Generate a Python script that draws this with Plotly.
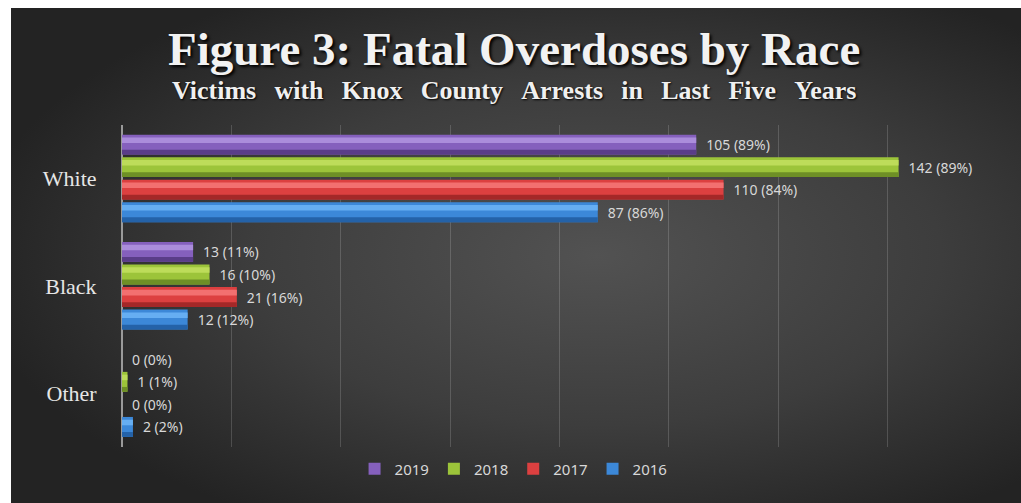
import base64
import plotly.graph_objects as go

# ---------------- data ----------------
categories = ["White", "Black", "Other"]
years = ["2019", "2018", "2017", "2016"]
counts_2019 = [105, 13, 0]
counts_2018 = [142, 16, 1]
counts_2017 = [110, 21, 0]
counts_2016 = [87, 12, 2]
pct_2019 = [89, 11, 0]
pct_2018 = [89, 10, 1]
pct_2017 = [84, 16, 0]
pct_2016 = [86, 12, 2]

series_counts = [counts_2019, counts_2018, counts_2017, counts_2016]
series_pct = [pct_2019, pct_2018, pct_2017, pct_2016]

# styles: body, highlight, shade
colors_body = ["#8560bd", "#9cc43a", "#dc4040", "#3c88d8"]
colors_hi = ["#ab8ddb", "#bddc5a", "#f27070", "#66aef2"]
colors_dark = ["#5a3d88", "#6e8f26", "#a42828", "#2462a8"]

W, H = 1021, 503
x_max = 160
y_pos = list(range(len(categories)))

bar_w = 0.185
offsets = [-0.41, -0.20, 0.01, 0.22]

fig = go.Figure()
for i, yr in enumerate(years):
    cnt = series_counts[i]
    pct = series_pct[i]
    labels = ["\u2002" + f"{c} ({p}%)" for c, p in zip(cnt, pct)]
    fig.add_trace(go.Bar(
        y=y_pos, x=cnt, orientation="h", name=yr,
        width=bar_w, offset=offsets[i],
        marker=dict(color=colors_body[i], line=dict(width=0)),
        text=labels, textposition="outside", constraintext="none",
        textfont=dict(family="Noto Sans, Open Sans, sans-serif", size=14, color="#d8d8d8"),
        cliponaxis=False, hoverinfo="x+name",
    ))
    # cylinder highlight
    fig.add_trace(go.Bar(
        y=y_pos, x=cnt, orientation="h", showlegend=False, hoverinfo="skip",
        width=bar_w * 0.28, offset=offsets[i] + bar_w * 0.14,
        marker=dict(color=colors_hi[i], line=dict(width=0)),
    ))
    # bottom shade
    fig.add_trace(go.Bar(
        y=y_pos, x=cnt, orientation="h", showlegend=False, hoverinfo="skip",
        width=bar_w * 0.24, offset=offsets[i] + bar_w * 0.76,
        marker=dict(color=colors_dark[i], line=dict(width=0)),
    ))

# background gradient (SVG data URI)
svg = (
    "<svg xmlns='http://www.w3.org/2000/svg' width='1010' height='495' viewBox='0 0 1010 495' preserveAspectRatio='none'>"
    "<defs><radialGradient id='g' cx='58%' cy='50%' r='62%' gradientUnits='objectBoundingBox'>"
    "<stop offset='0' stop-color='#525252'/><stop offset='0.55' stop-color='#3d3d3d'/>"
    "<stop offset='1' stop-color='#232323'/></radialGradient></defs>"
    "<rect x='0' y='0' width='1010' height='495' fill='url(#g)'/></svg>"
)
src = "data:image/svg+xml;base64," + base64.b64encode(svg.encode()).decode()

left_px, right_px = 122, 997
top_px, bot_px = 125, 447

sp = "\u2002\u2009"
subtitle = sp.join("Victims with Knox County Arrests in Last Five Years".split(" "))

fig.update_layout(
    width=W, height=H,
    margin=dict(l=0, r=0, t=0, b=0),
    paper_bgcolor="white",
    plot_bgcolor="rgba(0,0,0,0)",
    barmode="overlay",
    images=[dict(source=src, xref="paper", yref="paper",
                 x=11 / W, y=1 - 8 / H, sizex=1 - 11 / W, sizey=1 - 8 / H,
                 xanchor="left", yanchor="top", sizing="stretch", layer="below")],
    xaxis=dict(domain=[left_px / W, right_px / W], range=[0, x_max], dtick=20,
               showgrid=True, gridcolor="rgba(255,255,255,0.16)", gridwidth=1,
               zeroline=True, zerolinecolor="#9a9a9a", zerolinewidth=1.5,
               showticklabels=False, ticks="", fixedrange=True),
    yaxis=dict(domain=[1 - bot_px / H, 1 - top_px / H], range=[2.5, -0.5],
               tickvals=y_pos, ticktext=categories, showgrid=False, zeroline=False,
               ticks="outside", ticklen=20, tickcolor="rgba(0,0,0,0)",
               tickfont=dict(family="Liberation Serif, Times New Roman, serif", size=22, color="#e6e6e6"),
               fixedrange=True),
    legend=dict(orientation="h", x=0.503, xanchor="center", y=1 - 469 / H, yanchor="middle",
                font=dict(family="Noto Sans, Open Sans, sans-serif", size=15, color="#d8d8d8"),
                bgcolor="rgba(0,0,0,0)", traceorder="normal", itemwidth=30),
    showlegend=True,
    annotations=[
        dict(text="<b>Figure 3: Fatal Overdoses by Race</b>", xref="paper", yref="paper",
             x=514 / W, y=1 - 49 / H, xanchor="center", yanchor="middle", showarrow=False,
             font=dict(family="Liberation Serif, Times New Roman, serif", size=47, color="#f2f2f2",
                       shadow="2px 2px 3px #000000")),
        dict(text="<b>" + subtitle + "</b>",
             xref="paper", yref="paper",
             x=514 / W, y=1 - 90 / H, xanchor="center", yanchor="middle", showarrow=False,
             font=dict(family="Liberation Serif, Times New Roman, serif", size=26, color="#f0f0f0",
                       shadow="1px 1px 2px #000000")),
    ],
)

fig.write_html("out.html")
